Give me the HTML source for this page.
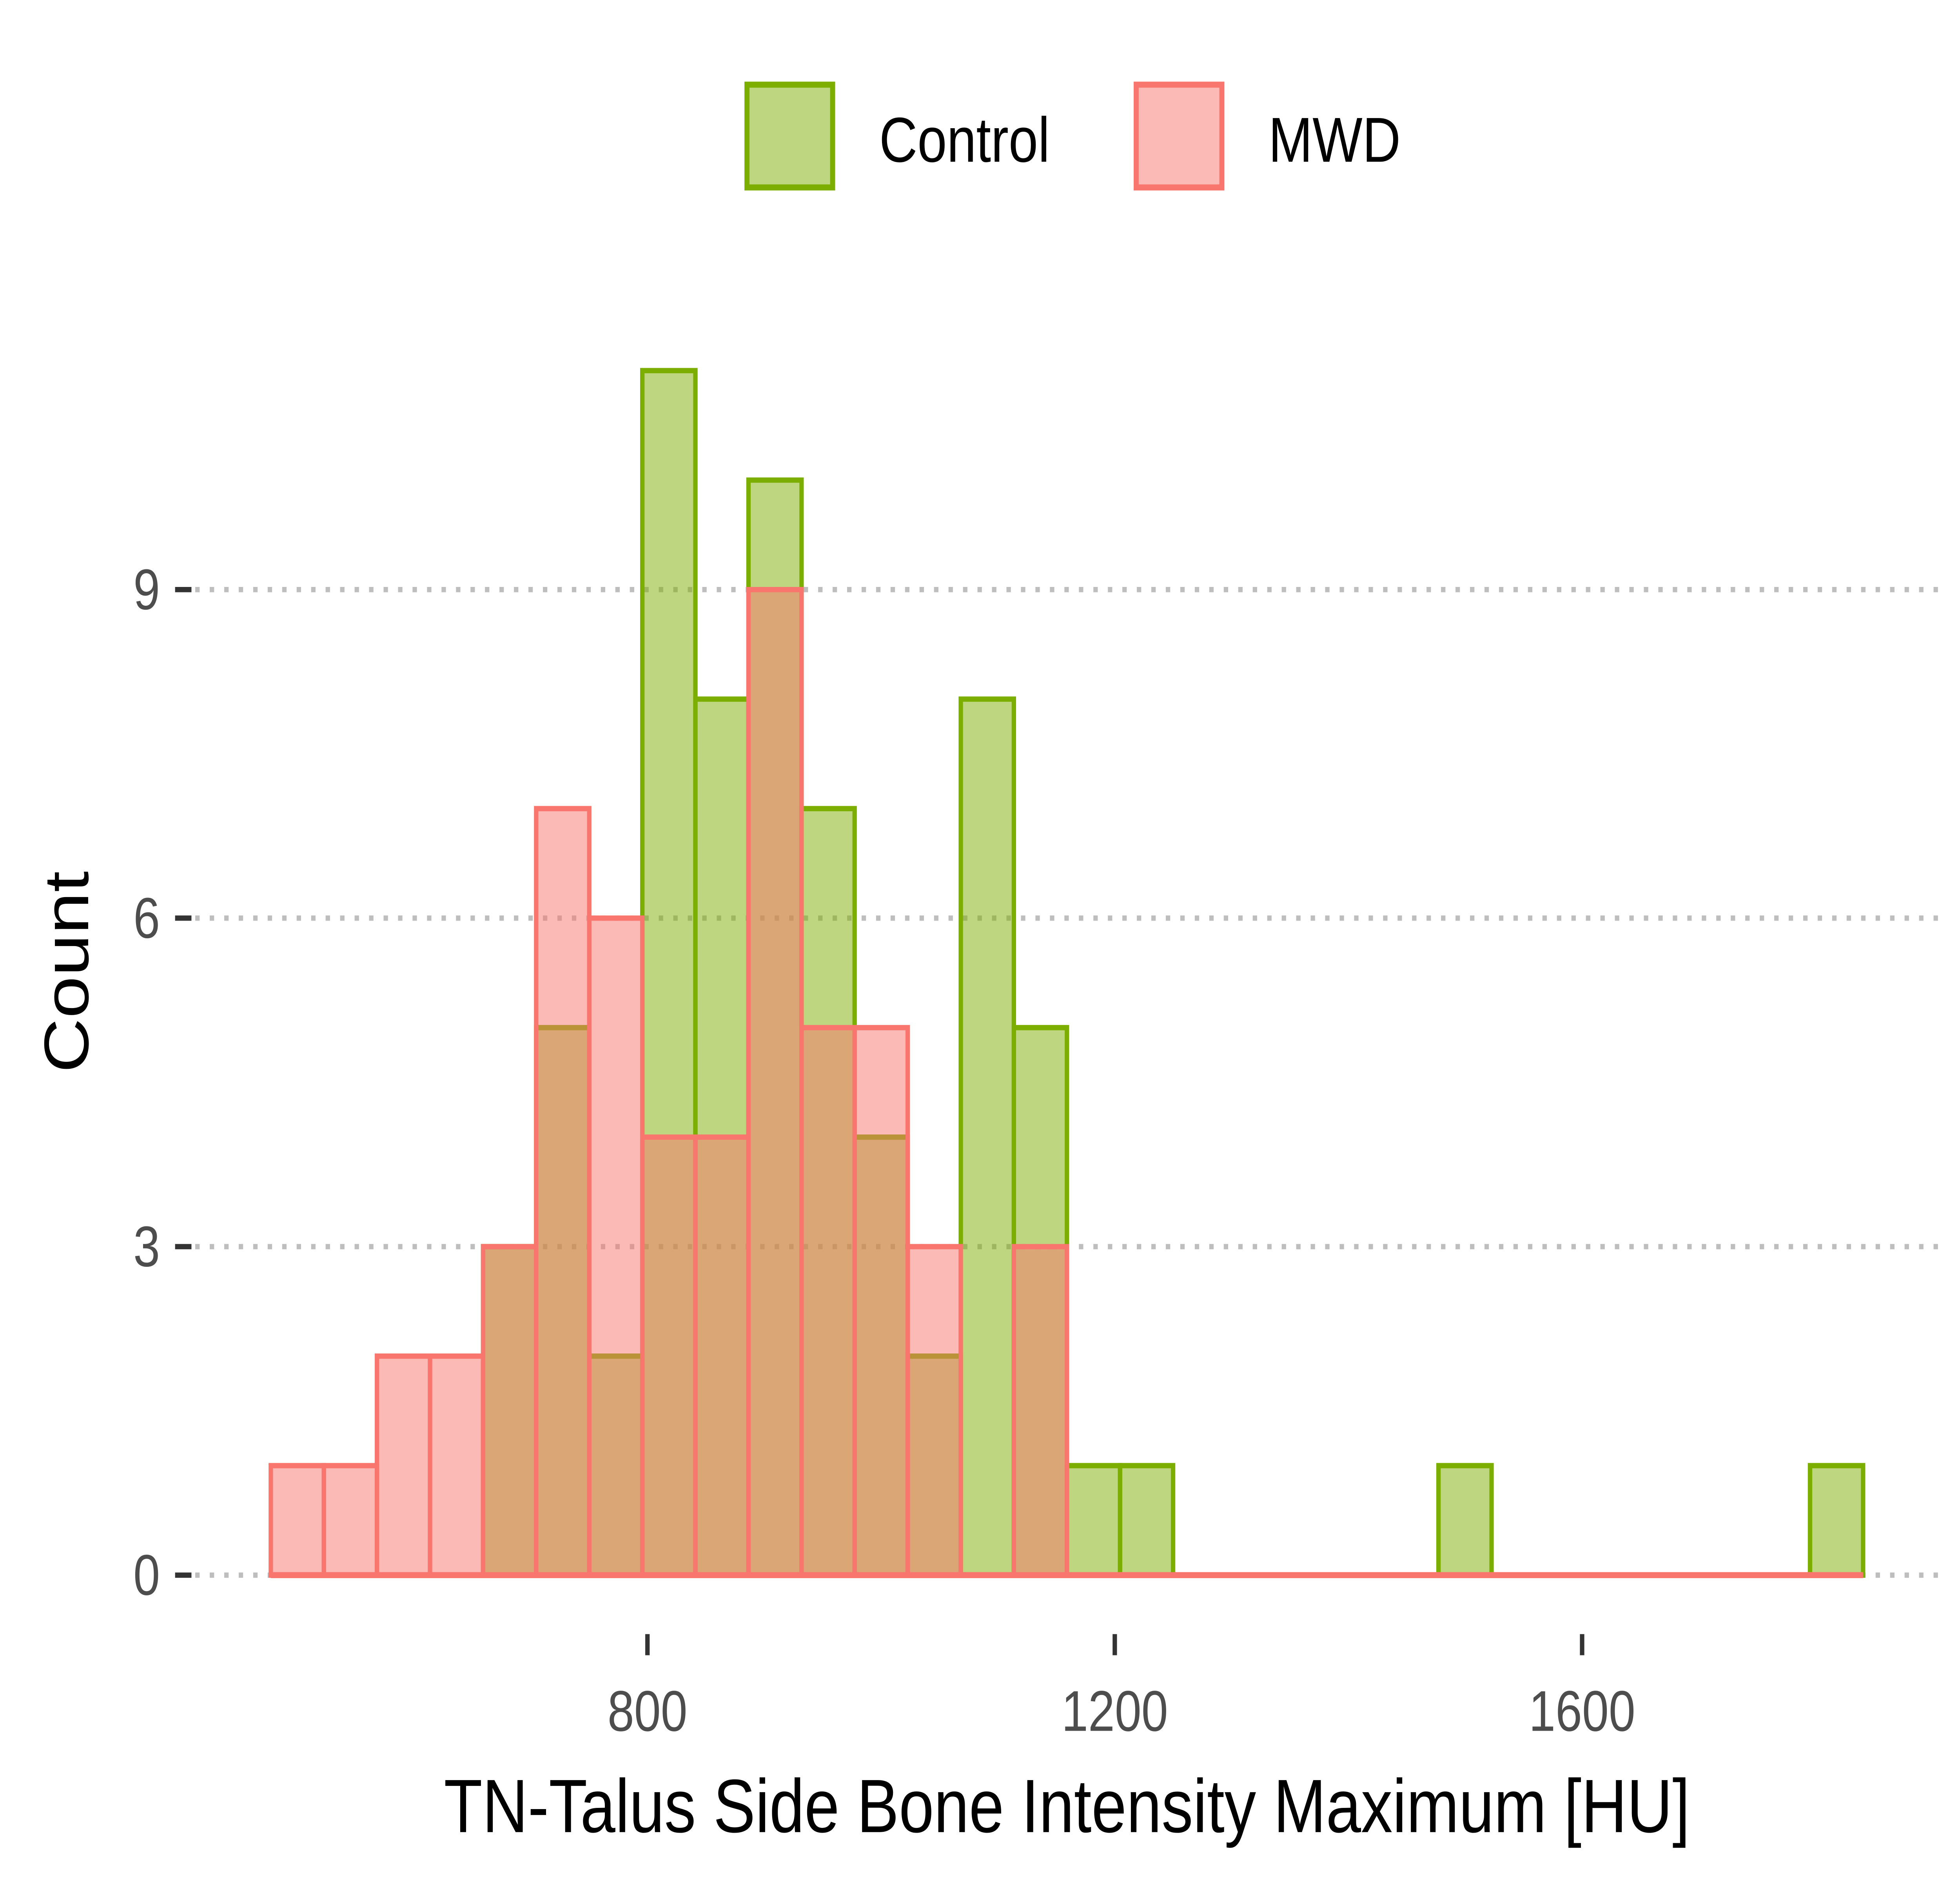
<!DOCTYPE html>
<html><head><meta charset="utf-8"><style>html,body{margin:0;padding:0;background:#fff;width:100%;height:100%;overflow:hidden}svg{display:block;position:absolute;left:0;top:0;width:100vw;height:100vh}</style></head>
<body>
<svg viewBox="0 0 1556 1245" preserveAspectRatio="none" xmlns="http://www.w3.org/2000/svg" font-family="Liberation Sans, sans-serif">
<g id="grid"></g>
<g id="yaxis"></g>
<g id="xaxis"></g>
<g id="bars"></g>
<text x="847" y="1212" font-size="50" text-anchor="middle" fill="#000">TN-Talus Side Bone Intensity Maximum [HU]</text>
<text transform="translate(70,643) rotate(-90)" font-size="50" text-anchor="middle" fill="#000">Count</text>
<g>
<g>
<rect x="593" y="56" width="68" height="68" fill="#7CAE00" fill-opacity="0.5" stroke="#7CAE00" stroke-width="4"/>
<text x="698" y="107" font-size="42" fill="#000">Control</text></g>
<g>
<rect x="902" y="56" width="68" height="68" fill="#F8766D" fill-opacity="0.5" stroke="#F8766D" stroke-width="4"/>
<text x="1007" y="107" font-size="42" fill="#000">MWD</text></g>
</g>
</svg>
<script>
const binStart = 477.6;
const binWidth = 45.43;
const controlCounts = [0,0,0,0,3,5,2,11,8,10,7,4,2,8,5,1,1,0,0,0,0,0,1,0,0,0,0,0,0,1];
const mwdCounts =     [1,1,2,2,3,7,6,4,4,9,5,5,3,0,3,0,0,0,0,0,0,0,0,0,0,0,0,0,0,0];
const yTicks = [0,3,6,9];
const xTicks = [800,1200,1600];
const NS='http://www.w3.org/2000/svg';
function xs(v){return 514+(v-800)*0.9275;}
function ys(c){return 1042-c*72.44;}
function mk(t,a,p){const e=document.createElementNS(NS,t);for(const k in a)e.setAttribute(k,a[k]);p.appendChild(e);return e;}
const grid=document.getElementById('grid'),ya=document.getElementById('yaxis'),xa=document.getElementById('xaxis'),bars=document.getElementById('bars');
yTicks.forEach(t=>{
  const l=mk('line',{x1:155,x2:1545,y1:ys(t),y2:ys(t),stroke:'#bebebe','stroke-width':3.5,'stroke-dasharray':'3.5 8'},grid);
  
  
  const tk=mk('line',{x1:139,x2:152,y1:ys(t),y2:ys(t),stroke:'#333','stroke-width':3.5},ya);
  
  
  const tx=mk('text',{x:127,y:ys(t)+13,'font-size':38,'text-anchor':'end',fill:'#4d4d4d'},ya);
  tx.textContent=t;
  
  
});
xTicks.forEach(t=>{
  const tk=mk('line',{x1:xs(t),x2:xs(t),y1:1081,y2:1095,stroke:'#333','stroke-width':3.5},xa);
  
  
  const tx=mk('text',{x:xs(t),y:1145,'font-size':38,'text-anchor':'middle',fill:'#4d4d4d'},xa);
  tx.textContent=t;
  
  
});
function drawSeries(counts,color,name){
  let first=counts.findIndex(c=>c>0),last=counts.length-1-[...counts].reverse().findIndex(c=>c>0);
  counts.forEach((c,i)=>{
    if(i<first||i>last)return;
    const x0=xs(binStart+i*binWidth),x1=xs(binStart+(i+1)*binWidth);
    const r=mk('rect',{x:x0,y:ys(c),width:x1-x0,height:ys(0)-ys(c),fill:color,'fill-opacity':0.5,stroke:color,'stroke-width':3.5},bars);
    
    
  });
}
drawSeries(controlCounts,'#7CAE00','control');
drawSeries(mwdCounts,'#F8766D','mwd');
const bl=mk('line',{x1:xs(binStart),x2:xs(binStart+30*binWidth),y1:ys(0),y2:ys(0),stroke:'#F8766D','stroke-width':4},bars);


</script>
</body></html>
